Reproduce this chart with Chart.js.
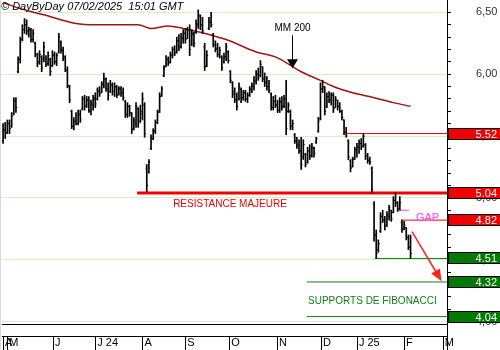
<!DOCTYPE html>
<html>
<head>
<meta charset="utf-8">
<script src="https://cdn.jsdelivr.net/npm/chart.js@4/dist/chart.umd.min.js"></script>
<style>
  html, body { margin: 0; padding: 0; background: #fff; }
</style>
</head>
<body>
<canvas id="chart" width="500" height="350"></canvas>
<script>
/* price bars, one per trading day (late April 2024 to 7 Feb 2025) */
const opens = [
  5.46, 5.55, 5.53, 5.60, 5.58, 5.68, 5.78, 6.02, 6.12, 6.28,
  6.36, 6.40, 6.34, 6.36, 6.28, 6.25, 6.16, 6.10, 6.14, 6.12,
  6.13, 6.09, 6.12, 6.07, 6.15, 6.10, 6.18, 6.26, 6.19, 6.14,
  6.03, 5.90, 5.70, 5.58, 5.62, 5.60, 5.67, 5.72, 5.80, 5.75,
  5.79, 5.70, 5.75, 5.80, 5.80, 5.86, 5.85, 5.92, 5.96, 5.88,
  5.86, 5.91, 5.86, 5.89, 5.84, 5.88, 5.85, 5.78, 5.67, 5.74,
  5.68, 5.56, 5.60, 5.72, 5.62, 5.68, 5.75, 5.24, 5.21, 5.40,
  5.48, 5.54, 5.61, 5.70, 5.83, 5.99, 6.06, 6.12, 6.10, 6.15,
  6.20, 6.18, 6.27, 6.22, 6.29, 6.33, 6.29, 6.36, 6.24, 6.32,
  6.34, 6.40, 6.47, 6.40, 6.22, 6.07, 6.37, 6.42, 6.32, 6.24,
  6.21, 6.16, 6.14, 6.10, 6.14, 6.18, 6.02, 5.93, 5.86, 5.80,
  5.80, 5.88, 5.81, 5.85, 5.80, 5.83, 5.87, 5.90, 5.94, 6.00,
  5.99, 6.06, 5.97, 5.94, 5.90, 5.84, 5.73, 5.78, 5.75, 5.71,
  5.77, 5.74, 5.80, 5.70, 5.70, 5.58, 5.51, 5.46, 5.43, 5.38,
  5.33, 5.35, 5.29, 5.38, 5.34, 5.40, 5.45, 5.54, 5.64, 5.88,
  5.89, 5.74, 5.82, 5.79, 5.83, 5.73, 5.79, 5.74, 5.70, 5.63,
  5.53, 5.46, 5.30, 5.25, 5.32, 5.38, 5.41, 5.44, 5.42, 5.43,
  5.34, 5.31, 5.24, 4.95, 4.70, 4.58, 4.73, 4.85, 4.82, 4.78,
  4.85, 4.90, 4.88, 4.98, 4.96, 4.91, 4.80, 4.75, 4.76, 4.68,
  4.60
];
const highs = [
  5.60, 5.61, 5.63, 5.63, 5.69, 5.81, 5.81, 6.14, 6.30, 6.40,
  6.45, 6.44, 6.38, 6.37, 6.36, 6.26, 6.17, 6.19, 6.15, 6.26,
  6.15, 6.18, 6.13, 6.19, 6.18, 6.17, 6.33, 6.27, 6.22, 6.15,
  6.06, 5.91, 5.71, 5.65, 5.69, 5.71, 5.71, 5.82, 5.83, 5.82,
  5.82, 5.79, 5.83, 5.85, 5.89, 5.90, 5.94, 6.01, 5.97, 5.93,
  5.95, 5.93, 5.93, 5.91, 5.90, 5.90, 5.89, 5.79, 5.77, 5.75,
  5.69, 5.65, 5.77, 5.73, 5.75, 5.85, 5.77, 5.27, 5.31, 5.51,
  5.56, 5.63, 5.71, 5.85, 5.90, 6.07, 6.15, 6.14, 6.18, 6.22,
  6.23, 6.30, 6.32, 6.33, 6.36, 6.37, 6.38, 6.40, 6.36, 6.34,
  6.44, 6.52, 6.48, 6.46, 6.25, 6.19, 6.46, 6.50, 6.33, 6.27,
  6.25, 6.22, 6.15, 6.17, 6.25, 6.19, 6.03, 5.94, 5.89, 5.85,
  5.93, 5.89, 5.87, 5.87, 5.85, 5.90, 5.93, 5.98, 6.03, 6.05,
  6.11, 6.06, 6.01, 5.98, 5.95, 5.85, 5.82, 5.83, 5.79, 5.81,
  5.82, 5.83, 5.95, 5.77, 5.71, 5.63, 5.52, 5.49, 5.47, 5.49,
  5.47, 5.36, 5.41, 5.43, 5.44, 5.41, 5.49, 5.65, 5.93, 5.95,
  5.90, 5.85, 5.86, 5.85, 5.85, 5.82, 5.79, 5.77, 5.71, 5.63,
  5.57, 5.47, 5.31, 5.33, 5.41, 5.44, 5.47, 5.48, 5.52, 5.44,
  5.36, 5.33, 5.25, 4.97, 4.74, 4.66, 4.88, 4.90, 4.85, 4.89,
  4.94, 4.90, 5.01, 5.04, 4.97, 5.01, 4.82, 4.81, 4.76, 4.70,
  4.70
];
const lows = [
  5.44, 5.48, 5.52, 5.52, 5.57, 5.67, 5.69, 6.01, 6.09, 6.27,
  6.33, 6.32, 6.30, 6.26, 6.26, 6.14, 6.06, 6.08, 6.02, 6.10,
  6.06, 6.07, 5.99, 6.06, 6.08, 6.07, 6.17, 6.17, 6.11, 6.02,
  5.89, 5.77, 5.56, 5.55, 5.59, 5.59, 5.61, 5.71, 5.71, 5.73,
  5.69, 5.67, 5.71, 5.73, 5.79, 5.82, 5.85, 5.89, 5.86, 5.79,
  5.85, 5.83, 5.82, 5.81, 5.83, 5.82, 5.79, 5.65, 5.65, 5.66,
  5.52, 5.55, 5.57, 5.57, 5.61, 5.63, 5.49, 5.05, 5.20, 5.39,
  5.47, 5.52, 5.60, 5.69, 5.82, 5.98, 6.06, 6.07, 6.09, 6.13,
  6.15, 6.17, 6.19, 6.21, 6.25, 6.25, 6.29, 6.15, 6.23, 6.22,
  6.33, 6.37, 6.36, 6.33, 6.03, 6.06, 6.36, 6.38, 6.22, 6.18,
  6.14, 6.13, 6.03, 6.09, 6.11, 6.09, 5.93, 5.81, 5.77, 5.71,
  5.79, 5.77, 5.79, 5.78, 5.77, 5.82, 5.85, 5.87, 5.92, 5.95,
  5.98, 5.94, 5.90, 5.87, 5.85, 5.71, 5.71, 5.73, 5.69, 5.69,
  5.71, 5.73, 5.51, 5.69, 5.55, 5.55, 5.44, 5.40, 5.36, 5.23,
  5.31, 5.25, 5.28, 5.31, 5.33, 5.33, 5.44, 5.53, 5.63, 5.85,
  5.67, 5.73, 5.77, 5.75, 5.69, 5.73, 5.71, 5.69, 5.63, 5.51,
  5.49, 5.31, 5.21, 5.25, 5.31, 5.33, 5.36, 5.39, 5.41, 5.31,
  5.28, 5.27, 5.04, 4.65, 4.51, 4.56, 4.72, 4.80, 4.74, 4.77,
  4.82, 4.81, 4.88, 4.93, 4.89, 4.90, 4.72, 4.74, 4.66, 4.58,
  4.51
];
const closes = [
  5.55, 5.52, 5.60, 5.56, 5.66, 5.79, 5.73, 6.12, 6.26, 6.36,
  6.40, 6.35, 6.36, 6.28, 6.33, 6.16, 6.09, 6.16, 6.05, 6.22,
  6.08, 6.15, 6.02, 6.16, 6.10, 6.15, 6.30, 6.20, 6.13, 6.04,
  5.91, 5.79, 5.58, 5.62, 5.60, 5.68, 5.63, 5.80, 5.74, 5.79,
  5.71, 5.76, 5.81, 5.76, 5.87, 5.84, 5.92, 5.96, 5.88, 5.83,
  5.92, 5.86, 5.90, 5.83, 5.88, 5.85, 5.81, 5.68, 5.74, 5.69,
  5.55, 5.62, 5.74, 5.60, 5.70, 5.80, 5.52, 5.10, 5.29, 5.48,
  5.54, 5.61, 5.69, 5.82, 5.88, 6.05, 6.12, 6.09, 6.16, 6.20,
  6.17, 6.27, 6.22, 6.30, 6.33, 6.28, 6.36, 6.20, 6.33, 6.25,
  6.41, 6.48, 6.39, 6.35, 6.06, 6.15, 6.43, 6.40, 6.24, 6.20,
  6.16, 6.19, 6.05, 6.14, 6.22, 6.11, 5.95, 5.84, 5.79, 5.74,
  5.90, 5.80, 5.85, 5.80, 5.83, 5.88, 5.91, 5.95, 6.00, 5.97,
  6.08, 5.96, 5.93, 5.90, 5.87, 5.73, 5.78, 5.75, 5.71, 5.78,
  5.74, 5.80, 5.56, 5.75, 5.58, 5.60, 5.46, 5.42, 5.38, 5.27,
  5.43, 5.27, 5.38, 5.34, 5.41, 5.36, 5.48, 5.62, 5.88, 5.90,
  5.70, 5.82, 5.79, 5.83, 5.72, 5.80, 5.74, 5.70, 5.65, 5.53,
  5.50, 5.33, 5.24, 5.31, 5.39, 5.41, 5.44, 5.41, 5.50, 5.34,
  5.30, 5.29, 5.07, 4.70, 4.55, 4.63, 4.85, 4.82, 4.77, 4.86,
  4.92, 4.83, 4.98, 4.96, 4.91, 4.96, 4.75, 4.78, 4.68, 4.60,
  4.55
];

/* 200-day moving average, read at a few bars */
const maBars = [0, 8, 19, 34, 43, 54, 63, 69, 77, 84, 92, 104, 118, 127, 139, 148, 154, 163, 173, 182, 190];
const maValues = [6.58, 6.53, 6.48, 6.41, 6.40, 6.40, 6.40, 6.37, 6.39, 6.37, 6.34, 6.28, 6.18, 6.14, 6.02, 5.95, 5.90, 5.85, 5.81, 5.77, 5.74];

/* month separators (bar index) and their labels */
const monthTicks = [0, 2, 23.3, 43, 65, 85, 105.5, 127.7, 148.3, 165, 187, 205];
const monthLabels = ['A', 'M', 'J', 'J 24', 'A', 'S', 'O', 'N', 'D', 'J 25', 'F', 'M'];

/* drawn levels: value and the bar where the line starts */
const resistanceLevels = [5.52, 5.04, 4.82];
const resistanceStarts = [160.4, 62.5, 185.5];
const supportLevels = [4.51, 4.32, 4.04];
const supportStarts = [173.4, 141.7, 141.7];
const gapLevel = 4.90;
const gapBars = [185, 189.3];
const arrowBars = [190.7, 203.3];
const arrowValues = [4.727, 4.36];

/* constants */
const LAST_SLOT = 207;
const FONT = '"Liberation Sans", Arial, sans-serif';
const RED = '#f00000';
const GREEN = '#0f7f0f';
const GRID_GREEN = '#d2f3c8';

/* utilities */
const isStep = (value, step) => Math.abs(value / step - Math.round(value / step)) < 1e-6;

const horizontalLine = (from, to, value, color, width) => ({
  type: 'line',
  data: [{ x: from, y: value }, { x: to, y: value }],
  borderColor: color,
  borderWidth: width,
  pointRadius: 0,
  order: 2,
});

const drawLevelBox = (ctx, yScale, value, fill) => {
  const py = Math.round(yScale.getPixelForValue(value));
  ctx.fillStyle = fill;
  ctx.fillRect(448, py - 6, 52, 12);
  ctx.strokeStyle = '#000';
  ctx.lineWidth = 1;
  ctx.strokeRect(448.5, py - 5.5, 52, 11);
  ctx.fillStyle = '#fff';
  ctx.font = '11px ' + FONT;
  ctx.textAlign = 'right';
  ctx.textBaseline = 'middle';
  ctx.fillText(value.toFixed(2), 497, py + 0.5);
};

const decorations = {
  id: 'decorations',
  afterDraw(chart) {
    const { ctx, chartArea } = chart;
    const xs = chart.scales.x;
    const ys = chart.scales.y;
    const px = (v) => xs.getPixelForValue(v);
    const py = (v) => ys.getPixelForValue(v);

    ctx.save();

    // frame around the date strip
    ctx.strokeStyle = '#d8d8d8';
    ctx.lineWidth = 1;
    ctx.beginPath();
    ctx.moveTo(0.5, 0);
    ctx.lineTo(0.5, 350);
    ctx.stroke();

    ctx.strokeStyle = '#000';
    ctx.beginPath();
    ctx.moveTo(chartArea.left, 336.5);
    ctx.lineTo(chartArea.right, 336.5);
    ctx.moveTo(chartArea.right + 0.5, chartArea.bottom);
    ctx.lineTo(chartArea.right + 0.5, 350);
    monthTicks.forEach((tick) => {
      const x = Math.round(px(tick)) + 0.5;
      ctx.moveTo(x, 336);
      ctx.lineTo(x, 350);
    });
    ctx.stroke();

    // arrow head of the target arrow
    const tx = px(arrowBars[1]);
    const ty = py(arrowValues[1]);
    const angle = Math.atan2(ty - py(arrowValues[0]), tx - px(arrowBars[0]));
    ctx.save();
    ctx.translate(tx, ty);
    ctx.rotate(angle);
    ctx.fillStyle = '#ff2020';
    ctx.beginPath();
    ctx.moveTo(5, 0);
    ctx.lineTo(-7, -5);
    ctx.lineTo(-7, 5);
    ctx.closePath();
    ctx.fill();
    ctx.restore();

    // price boxes on the axis
    resistanceLevels.forEach((level) => drawLevelBox(ctx, ys, level, RED));
    supportLevels.forEach((level) => drawLevelBox(ctx, ys, level, '#007a00'));

    // texts
    ctx.textBaseline = 'alphabetic';
    ctx.textAlign = 'left';
    ctx.font = '10px ' + FONT;
    ctx.fillStyle = '#ee0000';
    ctx.fillText('RESISTANCE MAJEURE', px(79.3), py(4.927));
    ctx.fillStyle = GREEN;
    ctx.fillText('SUPPORTS DE FIBONACCI', px(142.2), py(4.145));
    ctx.font = '11px ' + FONT;
    ctx.fillStyle = '#ff3cff';
    ctx.fillText('GAP', px(192.5), py(4.815));

    // MM 200 pointer
    const ax = Math.round(px(134.7)) + 0.5;
    ctx.fillStyle = '#000';
    ctx.font = '10px ' + FONT;
    ctx.textAlign = 'center';
    ctx.fillText('MM 200', ax, py(6.347));
    ctx.strokeStyle = '#000';
    ctx.beginPath();
    ctx.moveTo(ax, py(6.315));
    ctx.lineTo(ax, py(6.10));
    ctx.stroke();
    const tip = py(6.048);
    ctx.beginPath();
    ctx.moveTo(ax - 5.5, tip - 9);
    ctx.lineTo(ax + 5.5, tip - 9);
    ctx.lineTo(ax, tip);
    ctx.closePath();
    ctx.fill();

    // stamp
    ctx.textAlign = 'left';
    ctx.font = 'italic 11px ' + FONT;
    ctx.fillText('\u00a9 DayByDay 07/02/2025  15:01 GMT', 1, 10);

    ctx.restore();
  },
};

/* chart */
const bars = highs.map((high, i) => ({ x: i, y: [lows[i], high] }));
const openTicks = opens.map((open, i) => ({ x: i - 0.3, y: open }));
const closeTicks = closes.map((close, i) => ({ x: i + 0.3, y: close }));
const maPoints = maBars.map((bar, i) => ({ x: bar, y: maValues[i] }));

const datasets = [
  {
    type: 'bar',
    data: bars,
    backgroundColor: '#000',
    barThickness: 1,
    order: 0,
  },
  {
    type: 'scatter',
    data: openTicks,
    pointStyle: 'line',
    pointRadius: 0.7,
    borderColor: '#000',
    borderWidth: 1,
    order: 0,
  },
  {
    type: 'scatter',
    data: closeTicks,
    pointStyle: 'line',
    pointRadius: 0.7,
    borderColor: '#000',
    borderWidth: 1,
    order: 0,
  },
  {
    type: 'line',
    data: maPoints,
    borderColor: '#a01414',
    borderWidth: 1.5,
    pointRadius: 0,
    cubicInterpolationMode: 'monotone',
    order: 1,
  },
  horizontalLine(resistanceStarts[0], LAST_SLOT, resistanceLevels[0], RED, 1),
  horizontalLine(resistanceStarts[1], LAST_SLOT, resistanceLevels[1], RED, 3),
  horizontalLine(resistanceStarts[2], LAST_SLOT, resistanceLevels[2], RED, 1),
  horizontalLine(supportStarts[0], LAST_SLOT, supportLevels[0], GREEN, 1),
  horizontalLine(supportStarts[1], LAST_SLOT, supportLevels[1], GREEN, 1),
  horizontalLine(supportStarts[2], LAST_SLOT, supportLevels[2], GREEN, 1),
  horizontalLine(gapBars[0], gapBars[1], gapLevel, '#ff3cff', 1),
  {
    type: 'line',
    data: arrowBars.map((bar, i) => ({ x: bar, y: arrowValues[i] })),
    borderColor: '#ff2020',
    borderWidth: 1.5,
    pointRadius: 0,
    order: 1,
  },
];

new Chart(document.getElementById('chart'), {
  type: 'bar',
  data: { datasets: datasets },
  options: {
    responsive: false,
    devicePixelRatio: 1,
    animation: false,
    layout: { autoPadding: false, padding: { left: 2, top: 0, right: 0, bottom: 0 } },
    plugins: {
      legend: { display: false },
      tooltip: { enabled: false },
    },
    scales: {
      x: {
        type: 'linear',
        min: -0.5,
        max: LAST_SLOT,
        offset: false,
        afterBuildTicks: (scale) => {
          scale.ticks = monthTicks.map((value) => ({ value: value }));
        },
        afterFit: (scale) => {
          scale.height = 26;
          scale.paddingLeft = 0;
          scale.paddingRight = 0;
        },
        grid: { display: false, drawTicks: false },
        border: { display: true, color: '#000', width: 1 },
        ticks: {
          autoSkip: false,
          maxRotation: 0,
          align: 'start',
          labelOffset: 2,
          padding: 12,
          color: '#000',
          font: { family: FONT, size: 11 },
          callback: (value, index) => monthLabels[index],
        },
      },
      y: {
        position: 'right',
        min: 3.98,
        max: 6.6,
        afterFit: (scale) => {
          scale.width = 53;
          scale.paddingTop = 0;
          scale.paddingBottom = 0;
        },
        grid: {
          color: (ctx) => (isStep(ctx.tick.value, 0.5) ? GRID_GREEN : 'rgba(0,0,0,0)'),
          tickColor: (ctx) => (isStep(ctx.tick.value, 0.1) ? '#000' : 'rgba(0,0,0,0)'),
          tickLength: 4,
        },
        border: { display: true, color: '#000', width: 1 },
        ticks: {
          stepSize: 0.1,
          includeBounds: false,
          autoSkip: false,
          padding: 25,
          color: '#333',
          font: { family: FONT, size: 11 },
          callback: (value) => (isStep(value, 0.5) ? value.toFixed(2).replace('.', ',') : ''),
        },
      },
    },
  },
  plugins: [decorations],
});
</script>
</body>
</html>
